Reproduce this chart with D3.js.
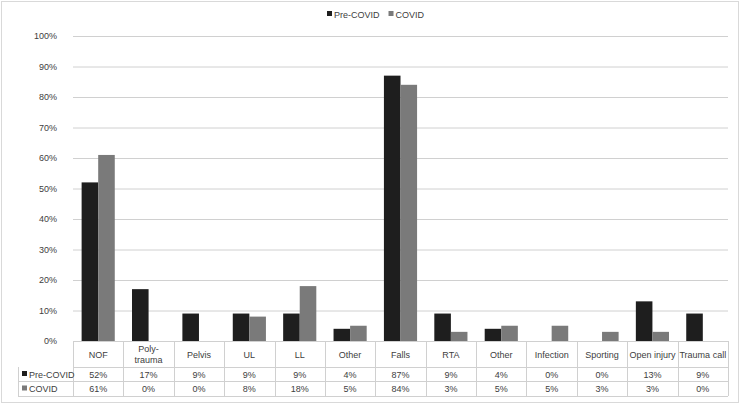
<!DOCTYPE html>
<html>
<head>
<meta charset="utf-8">
<script src="https://cdn.jsdelivr.net/npm/d3@7"></script>
<style>
  body { margin: 0; background: #fff; }
  text { font-family: "Liberation Sans", Arial, sans-serif; font-size: 9px; fill: #404040; }
</style>
</head>
<body>
<svg id="chart" width="740" height="404"></svg>
<script>
// ---- data ----
var categories = ["NOF", "Poly-\ntrauma", "Pelvis", "UL", "LL", "Other", "Falls", "RTA", "Other", "Infection", "Sporting", "Open injury", "Trauma call"];
var preCovid = [52, 17, 9, 9, 9, 4, 87, 9, 4, 0, 0, 13, 9];
var covid = [61, 0, 0, 8, 18, 5, 84, 3, 5, 5, 3, 3, 0];
var seriesNames = ["Pre-COVID", "COVID"];
var seriesColors = ["#1e1e1e", "#7a7a7a"];
var yTicks = [0, 10, 20, 30, 40, 50, 60, 70, 80, 90, 100];

// ---- layout ----
var width = 740, height = 404;
var plotLeft = 73, plotRight = 728, plotTop = 36, plotBottom = 341;
var tableLeft = 18, rowHeader = 367, rowPre = 381, rowBottom = 396;
var gridColor = "#d0d0d0";

var svg = d3.select("#chart");

// outer border
svg.append("rect")
  .attr("x", 1.5).attr("y", 1.5)
  .attr("width", width - 3).attr("height", height - 3)
  .attr("fill", "none").attr("stroke", "#d9d9d9");

var idx = d3.range(categories.length);
var x = d3.scaleBand().domain(idx).range([plotLeft, plotRight]);
var xInner = d3.scaleBand().domain([0, 1]).range([0, x.bandwidth()]).paddingOuter(0.52);
var y = d3.scaleLinear().domain([0, 100]).range([plotBottom, plotTop]);

// gridlines + y labels
var yAxis = d3.axisLeft(y).tickValues(yTicks)
  .tickFormat(function(d) { return d + "%"; })
  .tickSize(-(plotRight - plotLeft)).tickPadding(16);
var gy = svg.append("g").attr("transform", "translate(" + plotLeft + ",0)").call(yAxis);
gy.select(".domain").remove();
gy.selectAll("line").attr("stroke", gridColor);
gy.selectAll("text").attr("fill", null).attr("dx", 0);
gy.attr("font-size", null).attr("font-family", null);

// bars
var series = [preCovid, covid];
series.forEach(function(vals, s) {
  svg.append("g").selectAll("rect")
    .data(idx)
    .enter().append("rect")
      .attr("x", function(i) { return x(i) + xInner(s); })
      .attr("width", xInner.bandwidth())
      .attr("y", function(i) { return y(vals[i]); })
      .attr("height", function(i) { return y(0) - y(vals[i]); })
      .attr("fill", seriesColors[s]);
});

// data table
var tbl = svg.append("g").attr("stroke", gridColor).attr("fill", "none");
[plotBottom, rowHeader].forEach(function(yy) {
  tbl.append("line").attr("x1", plotLeft).attr("x2", plotRight).attr("y1", yy + 0.5).attr("y2", yy + 0.5);
});
[rowPre, rowBottom].forEach(function(yy) {
  tbl.append("line").attr("x1", tableLeft).attr("x2", plotRight).attr("y1", yy + 0.5).attr("y2", yy + 0.5);
});
tbl.append("line").attr("x1", tableLeft + 0.5).attr("x2", tableLeft + 0.5).attr("y1", rowHeader).attr("y2", rowBottom);
idx.concat([categories.length]).forEach(function(i) {
  var xx = i < categories.length ? x(i) : plotRight;
  tbl.append("line").attr("x1", Math.round(xx) + 0.5).attr("x2", Math.round(xx) + 0.5)
    .attr("y1", plotBottom).attr("y2", rowBottom);
});

// category labels
svg.append("g").selectAll("text")
  .data(idx)
  .enter().append("text")
    .attr("text-anchor", "middle")
    .each(function(i) {
      var lines = categories[i].split("\n");
      var t = d3.select(this);
      var cx = x(i) + x.bandwidth() / 2;
      var cy = (plotBottom + rowHeader) / 2 + 3.5 - (lines.length - 1) * 5.5;
      lines.forEach(function(l, k) {
        t.append("tspan").attr("x", cx).attr("y", cy + k * 11).text(l);
      });
    });

// value rows
var rowMid = [(rowHeader + rowPre) / 2 + 3.5, (rowPre + rowBottom) / 2 + 3.5];
series.forEach(function(vals, s) {
  svg.append("g").selectAll("text")
    .data(idx)
    .enter().append("text")
      .attr("text-anchor", "middle")
      .attr("x", function(i) { return x(i) + x.bandwidth() / 2; })
      .attr("y", rowMid[s])
      .text(function(i) { return vals[i] + "%"; });
  svg.append("rect").attr("x", tableLeft + 4).attr("y", rowMid[s] - 6.5)
    .attr("width", 5).attr("height", 5).attr("fill", seriesColors[s]);
  svg.append("text").attr("x", tableLeft + 11).attr("y", rowMid[s]).text(seriesNames[s]);
});

// legend at top
var legend = svg.append("g").attr("transform", "translate(327,15)");
var lx = 0;
seriesNames.forEach(function(name, s) {
  legend.append("rect").attr("x", lx).attr("y", -4).attr("width", 5).attr("height", 5).attr("fill", seriesColors[s]);
  var t = legend.append("text").attr("x", lx + 7).attr("y", 3).text(name);
  lx += 7 + t.node().getComputedTextLength() + 9;
});
</script>
</body>
</html>
